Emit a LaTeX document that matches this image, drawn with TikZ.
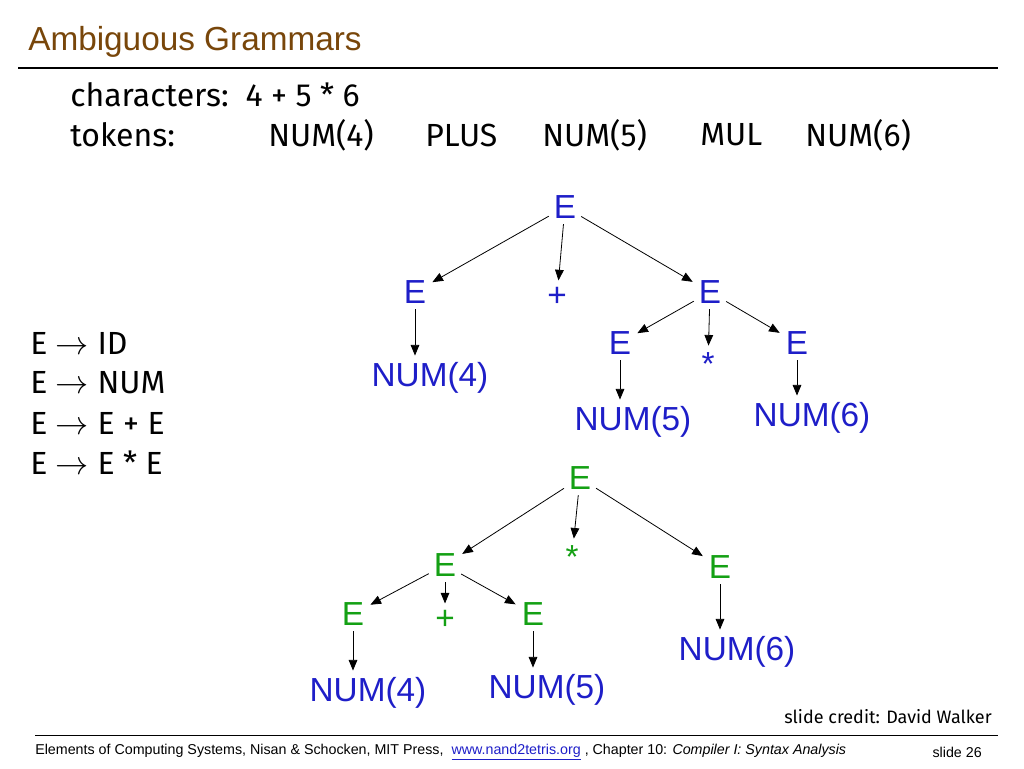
\documentclass[tikz,border=0pt]{standalone}
\usepackage{fontspec}
\setmainfont{Liberation Sans}
\newfontfamily\comic{Fira Sans}
\usetikzlibrary{arrows.meta}
\definecolor{tblue}{RGB}{30,30,200}
\definecolor{tgreen}{RGB}{20,160,20}
\definecolor{tbrown}{RGB}{120,70,10}
\begin{document}
\begin{tikzpicture}[x=0.75pt,y=-0.75pt,
 tn/.style={font=\fontsize{25}{27}\selectfont,inner sep=1pt},
 bl/.style={tn,text=tblue}, gr/.style={tn,text=tgreen},
 ar/.style={-{Triangle[length=8pt,width=6.5pt]},line width=0.6pt,shorten >=4pt,shorten <=3pt},
 comictxt/.style={font=\comic\fontsize{24}{27}\selectfont,anchor=west,inner sep=0pt}]
\useasboundingbox (0,0) rectangle (1024,768);
\node[anchor=west,text=tbrown,font=\fontsize{25}{28}\selectfont,inner sep=0] (title) at (28,42) {Ambiguous Grammars};
\draw[line width=1.5pt] (18,68) -- (998,68);
\node[comictxt] (ch) at (70,95) {characters:\ \ 4 + 5 * 6};
\node[comictxt] (tk) at (70,135) {tokens:};
\node[comictxt] (t1) at (268,135) {NUM(4)};
\node[comictxt] (t2) at (425,135) {PLUS};
\node[comictxt] (t3) at (542,135) {NUM(5)};
\node[comictxt] (t4) at (700,135) {MUL};
\node[comictxt] (t5) at (805,135) {NUM(6)};
\node[comictxt] (r1) at (30,343) {E $\rightarrow$ ID};
\node[comictxt] (r2) at (30,383) {E $\rightarrow$ NUM};
\node[comictxt] (r3) at (30,423) {E $\rightarrow$ E + E};
\node[comictxt] (r4) at (30,463) {E $\rightarrow$ E * E};
% top tree
\node[bl] (a) at (565,207) {E};
\node[bl] (a1) at (415,292) {E};
\node[bl] (a2) at (557,297) {+};
\node[bl] (a3) at (710,292) {E};
\node[bl] (a1n) at (430,378) {NUM(4)};
\node[bl] (b1) at (620,343) {E};
\node[bl] (b2) at (708,364) {*};
\node[bl] (b3) at (797,343) {E};
\node[bl] (b1n) at (633,422) {NUM(5)};
\node[bl] (b3n) at (812,418) {NUM(6)};
\draw[ar] (a) -- (a1); \draw[ar] (a) -- (a2); \draw[ar] (a) -- (a3);
\draw[ar] (a1) -- (a1.south|-a1n.north);
\draw[ar] (a3) -- (b1); \draw[ar] (a3) -- (b2); \draw[ar] (a3) -- (b3);
\draw[ar] (b1) -- (b1.south|-b1n.north);
\draw[ar] (b3) -- (b3.south|-b3n.north);
% bottom tree
\node[gr] (c) at (580,478) {E};
\node[gr] (c1) at (445,565) {E};
\node[gr] (c2) at (572,557) {*};
\node[gr] (c3) at (720,567) {E};
\node[gr] (d1) at (353,614) {E};
\node[gr] (d2) at (445,620) {+};
\node[gr] (d3) at (533,614) {E};
\node[bl] (d1n) at (368,693) {NUM(4)};
\node[bl] (d3n) at (547,690) {NUM(5)};
\node[bl] (c3n) at (737,652) {NUM(6)};
\draw[ar] (c) -- (c1); \draw[ar] (c) -- (c2); \draw[ar] (c) -- (c3);
\draw[ar] (c1) -- (d1); \draw[ar] (c1) -- (d2); \draw[ar] (c1) -- (d3);
\draw[ar] (d1) -- (d1.south|-d1n.north);
\draw[ar] (d3) -- (d3.south|-d3n.north);
\draw[ar] (c3) -- (c3.south|-c3n.north);
\node[anchor=east,font=\comic\fontsize{13.5}{15}\selectfont,inner sep=0] (cr) at (992,717) {slide credit: David Walker};
\draw[line width=0.6pt] (35,735) -- (998,735);
\node[anchor=west,font=\fontsize{10.7}{12}\selectfont,inner sep=0] (ft) at (35,752) {Elements of Computing Systems, Nisan \& Schocken, MIT Press,\ \ \textcolor{tblue}{\underline{www.nand2tetris.org}} , Chapter 10: \textit{Compiler I: Syntax Analysis}};
\node[anchor=east,font=\fontsize{10.7}{12}\selectfont,inner sep=0] (sl) at (982,752) {slide 26};
\end{tikzpicture}
\end{document}
